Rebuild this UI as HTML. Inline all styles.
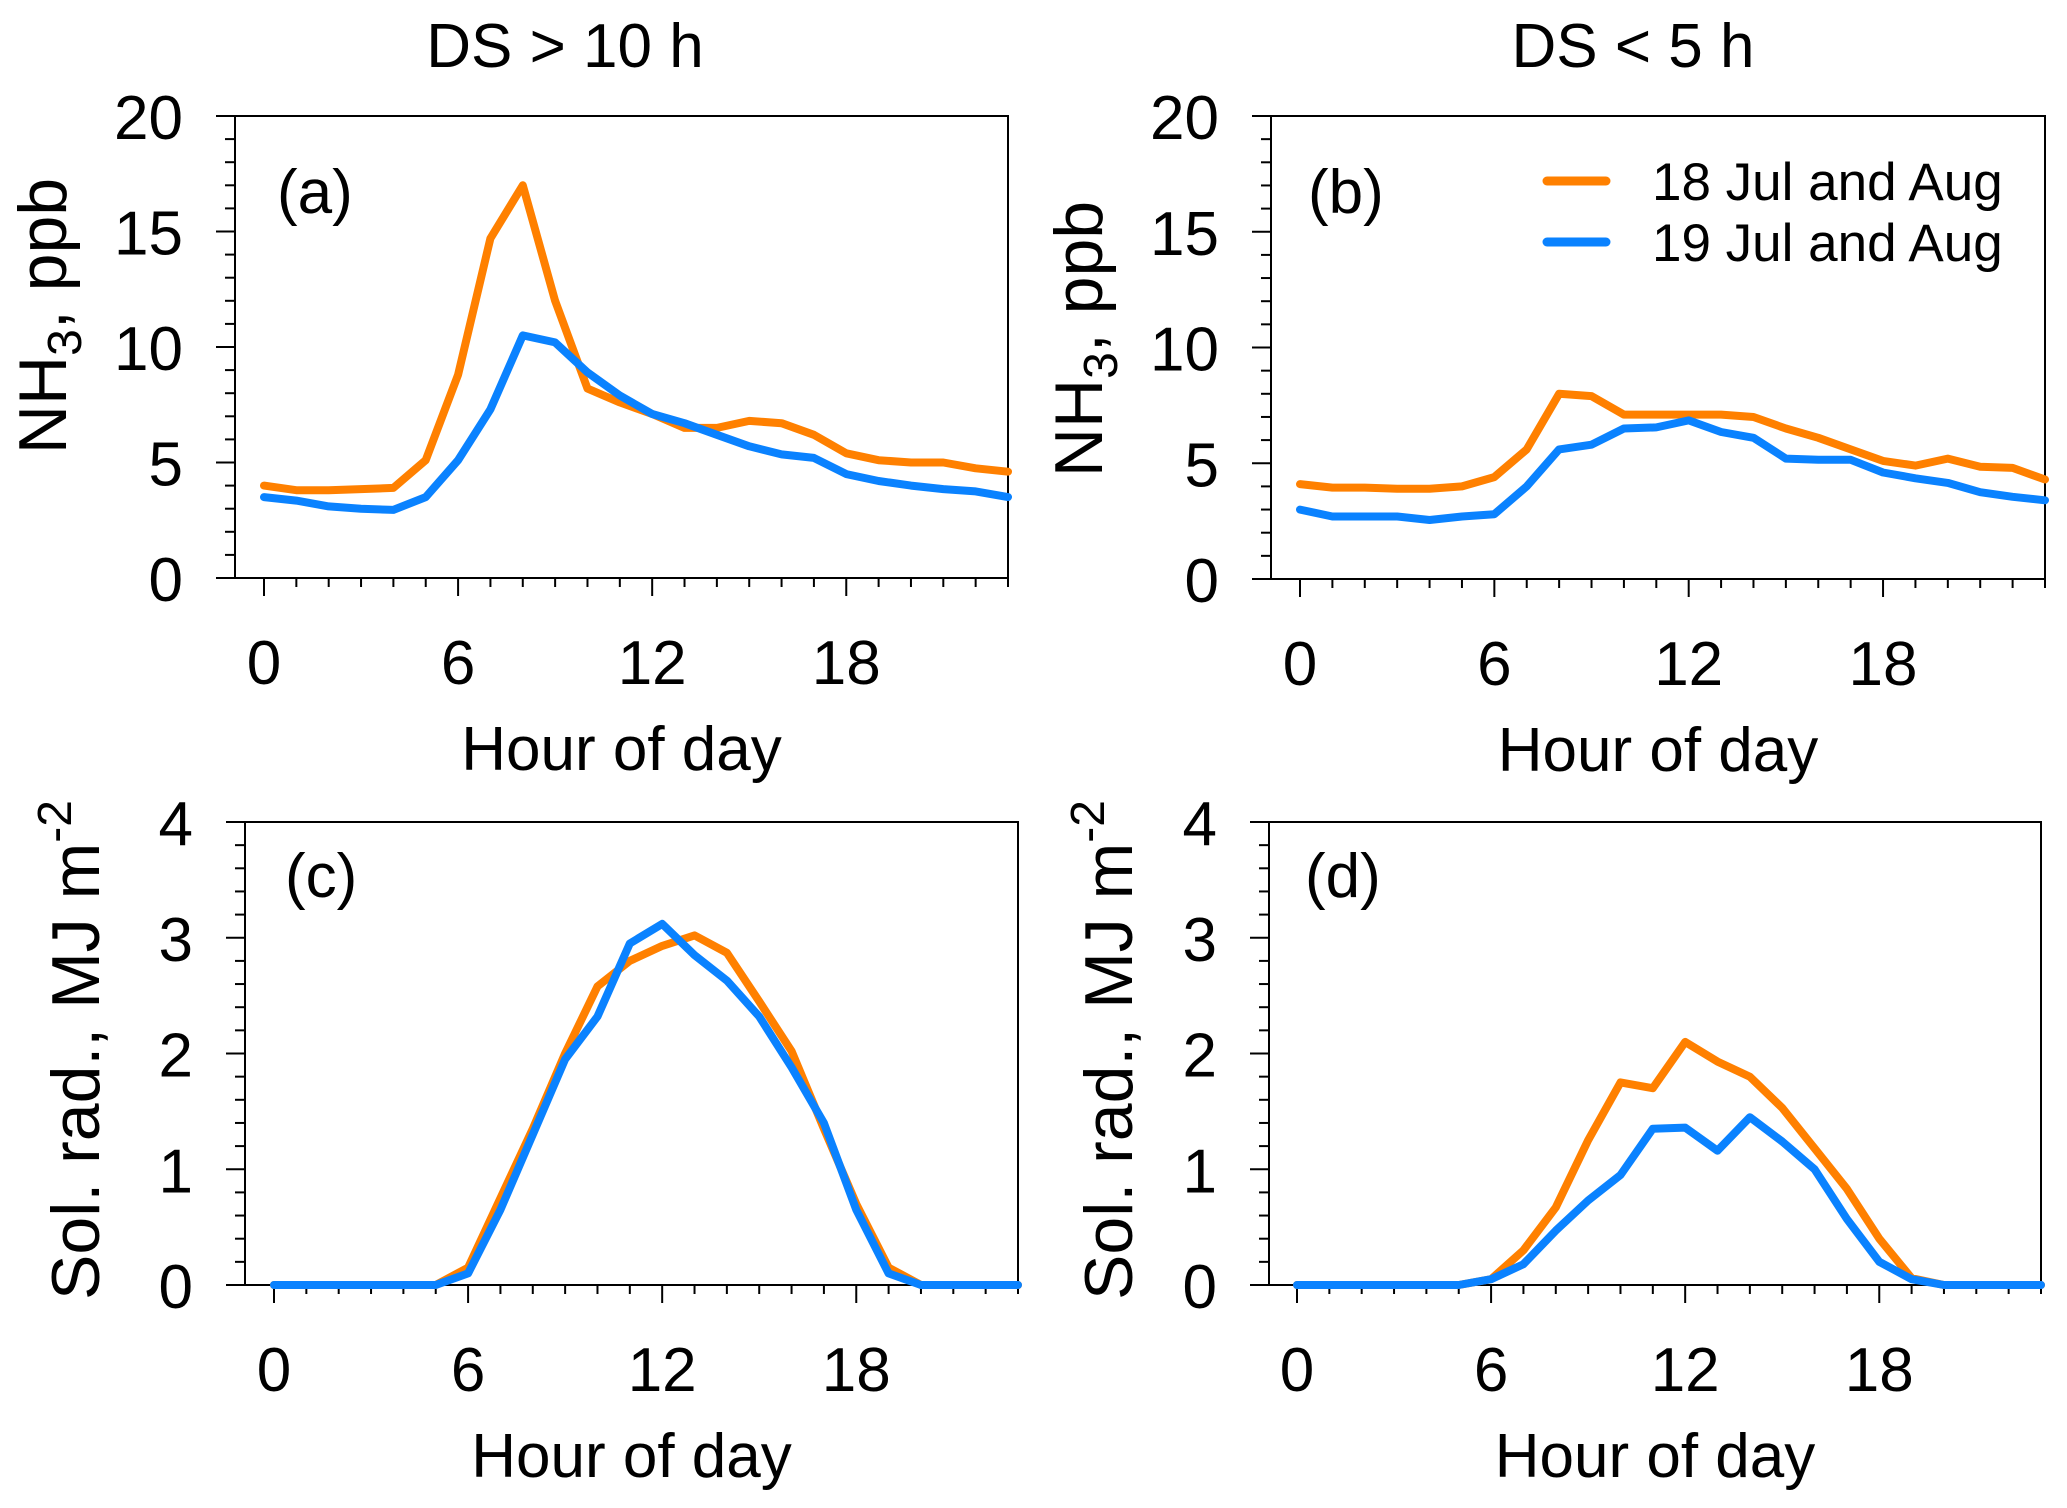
<!DOCTYPE html>
<html><head><meta charset="utf-8"><style>
html,body{margin:0;padding:0;background:#fff;}
svg{display:block;font-family:"Liberation Sans",Arial,sans-serif;}
</style></head><body>
<svg id="fig" width="2067" height="1508" viewBox="0 0 2067 1508" xmlns="http://www.w3.org/2000/svg">
<text x="565" y="67" font-size="62" text-anchor="middle">DS &gt; 10 h</text>
<text x="1633" y="67" font-size="62" text-anchor="middle">DS &lt; 5 h</text>
</svg>
<script>
const hours = [0,1,2,3,4,5,6,7,8,9,10,11,12,13,14,15,16,17,18,19,20,21,22,23];
const xTicks = [0,6,12,18];
const nh3Ticks = [0,5,10,15,20];
const solTicks = [0,1,2,3,4];
const aOrange = [4.0,3.8,3.8,3.85,3.9,5.1,8.8,14.7,17.0,12.0,8.2,7.6,7.1,6.5,6.5,6.8,6.7,6.2,5.4,5.1,5.0,5.0,4.75,4.6];
const aBlue = [3.5,3.35,3.1,3.0,2.95,3.5,5.1,7.3,10.5,10.2,8.9,7.9,7.1,6.7,6.2,5.7,5.35,5.2,4.5,4.2,4.0,3.85,3.75,3.5];
const bOrange = [4.1,3.95,3.95,3.9,3.9,4.0,4.4,5.6,8.0,7.9,7.1,7.1,7.1,7.1,7.0,6.5,6.1,5.6,5.1,4.9,5.2,4.85,4.8,4.3];
const bBlue = [3.0,2.7,2.7,2.7,2.55,2.7,2.8,4.0,5.6,5.8,6.5,6.55,6.85,6.35,6.1,5.2,5.15,5.15,4.6,4.35,4.15,3.75,3.55,3.4];
const cOrange = [0,0,0,0,0,0,0.15,0.75,1.35,2.0,2.58,2.8,2.93,3.02,2.87,2.45,2.02,1.35,0.7,0.15,0,0,0,0];
const cBlue = [0,0,0,0,0,0,0.1,0.65,1.3,1.95,2.32,2.95,3.12,2.85,2.63,2.32,1.88,1.4,0.65,0.1,0,0,0,0];
const dOrange = [0,0,0,0,0,0,0.05,0.3,0.67,1.25,1.75,1.7,2.1,1.93,1.8,1.53,1.18,0.83,0.4,0.06,0,0,0,0];
const dBlue = [0,0,0,0,0,0,0.05,0.18,0.47,0.73,0.95,1.35,1.36,1.16,1.45,1.24,1.0,0.57,0.2,0.05,0,0,0,0];
const ORANGE = "#FF8000", BLUE = "#0A82FF";
const NS = "http://www.w3.org/2000/svg";
const svg = document.getElementById('fig');
function mk(tag, attrs, parent){const e=document.createElementNS(NS,tag);for(const k in attrs)e.setAttribute(k,attrs[k]);(parent||svg).appendChild(e);return e;}

function panel(p){
  const g = mk('g',{});
  
  
  const xs = h => p.x0 + (h/23)*(p.right-p.x0);
  const ys = v => p.bottom - (v/p.ymax)*(p.bottom-p.top);
  const frame = mk('rect',{x:p.left,y:p.top,width:p.right-p.left,height:p.bottom-p.top,fill:'none',stroke:'#000','stroke-width':2},g);
  
  
  for(let v=0; v<=p.ymax+1e-9; v+=p.minor){
    const isMaj = p.yt.some(t=>Math.abs(t-v)<1e-9);
    const t = mk('line',{x1:p.left,x2:p.left-(isMaj?19:10),y1:ys(v),y2:ys(v),stroke:'#000','stroke-width':2},g);
    
    
  }
  p.yt.forEach(v=>{
    const t = mk('text',{x:p.left-52,y:ys(v)+23,'font-size':62,'text-anchor':'end'},g);
    
    
    t.textContent = v;
  });
  hours.forEach(h=>{
    const isMaj = xTicks.includes(h);
    const t = mk('line',{x1:xs(h),x2:xs(h),y1:p.bottom,y2:p.bottom+(isMaj?18:9),stroke:'#000','stroke-width':2},g);
    
    
  });
  xTicks.forEach(h=>{
    const t = mk('text',{x:xs(h),y:p.bottom+106,'font-size':62,'text-anchor':'middle'},g);
    
    
    t.textContent = h;
  });
  const xt = mk('text',{x:(p.left+p.right)/2,y:p.bottom+192,'font-size':62,'text-anchor':'middle'},g);
  
  
  xt.textContent = 'Hour of day';
  const yt = mk('text',{transform:`translate(${p.ytx},${p.yty}) rotate(-90)`,'font-size':68,'text-anchor':'middle'},g);
  
  
  yt.innerHTML = p.ytitle;
  const lab = mk('text',{x:p.labx,y:p.laby,'font-size':62},g);
  
  
  lab.textContent = '('+p.id+')';
  [[p.o,ORANGE,'orange'],[p.b,BLUE,'blue']].forEach(([arr,col,nm])=>{
    const d = arr.map((v,i)=>(i?'L':'M')+xs(hours[i]).toFixed(1)+','+ys(v).toFixed(1)).join(' ');
    const l = mk('path',{d:d,fill:'none',stroke:col,'stroke-width':8,'stroke-linejoin':'round','stroke-linecap':'round'},g);
    
    
  });
}
const nh3Title = 'NH<tspan font-size="48" dy="15">3</tspan><tspan dy="-15">, ppb</tspan>';
const solTitle = 'Sol. rad., MJ m<tspan font-size="48" dy="-28">-2</tspan>';
panel({id:'a',left:235,right:1008,x0:264,top:116,bottom:578,ymax:20,minor:1,yt:nh3Ticks,o:aOrange,b:aBlue,ytitle:nh3Title,ytx:66,yty:316,labx:277,laby:213});
panel({id:'b',left:1271,right:2045,x0:1300,top:116,bottom:579,ymax:20,minor:1,yt:nh3Ticks,o:bOrange,b:bBlue,ytitle:nh3Title,ytx:1102,yty:339,labx:1308,laby:213});
panel({id:'c',left:245,right:1018,x0:274,top:822,bottom:1285,ymax:4,minor:0.2,yt:solTicks,o:cOrange,b:cBlue,ytitle:solTitle,ytx:99,yty:1050,labx:285,laby:897});
panel({id:'d',left:1269,right:2041,x0:1297,top:822,bottom:1285,ymax:4,minor:0.2,yt:solTicks,o:dOrange,b:dBlue,ytitle:solTitle,ytx:1132,yty:1050,labx:1305,laby:897});
const leg = mk('g',{});


[['18 Jul and Aug',ORANGE,181,200],['19 Jul and Aug',BLUE,242,261]].forEach(([txt,col,ly,ty])=>{
  const l = mk('line',{x1:1547,x2:1606,y1:ly,y2:ly,stroke:col,'stroke-width':9,'stroke-linecap':'round'},leg);
  
  
  const t = mk('text',{x:1652,y:ty,'font-size':53},leg);
  
  
  t.textContent = txt;
});
</script>
</body></html>
